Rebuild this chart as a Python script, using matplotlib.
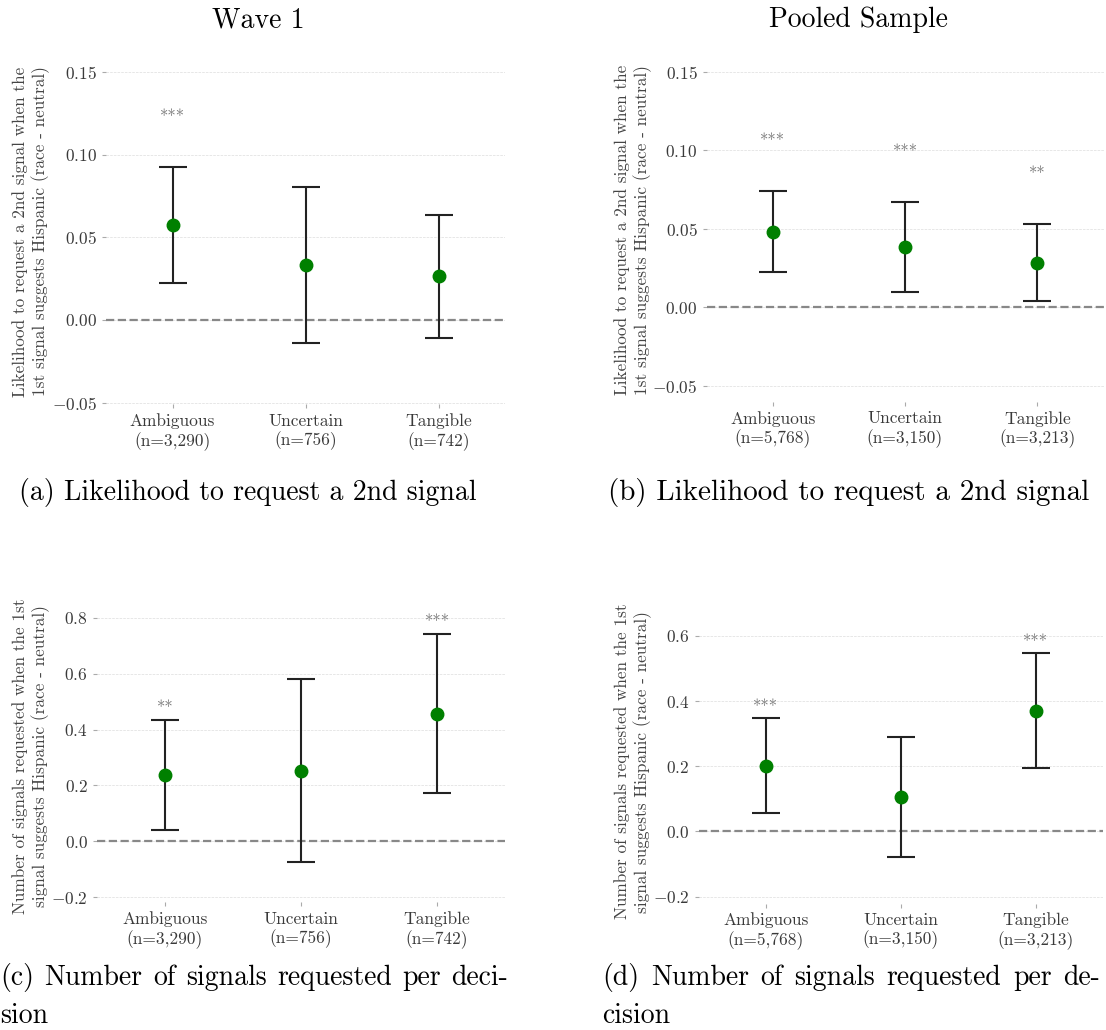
import numpy as np
import matplotlib
matplotlib.use("Agg")
import matplotlib.pyplot as plt
from matplotlib.ticker import MultipleLocator

# fuente tipo LaTeX (Computer Modern)
plt.rcParams['font.family'] = 'cmr10'
plt.rcParams['mathtext.fontset'] = 'cm'
plt.rcParams['axes.formatter.use_mathtext'] = True

"""
DATOS
"""
categorias = ["Ambiguous", "Uncertain", "Tangible"]
n_wave1 = ["3,290", "756", "742"]
n_pooled = ["5,768", "3,150", "3,213"]

# (a) probabilidad de pedir 2da senal - wave 1
prob_w1_est = [0.0573, 0.0334, 0.0267]
prob_w1_lo = [0.0221, -0.0142, -0.0107]
prob_w1_hi = [0.0923, 0.0806, 0.0636]
prob_w1_sig = ["***", "", ""]

# (b) probabilidad de pedir 2da senal - pooled
prob_pool_est = [0.0481, 0.0384, 0.0283]
prob_pool_lo = [0.0227, 0.0097, 0.0041]
prob_pool_hi = [0.0738, 0.0672, 0.0532]
prob_pool_sig = ["***", "***", "**"]

# (c) numero de senales - wave 1
num_w1_est = [0.237, 0.253, 0.456]
num_w1_lo = [0.040, -0.075, 0.174]
num_w1_hi = [0.434, 0.582, 0.740]
num_w1_sig = ["**", "", "***"]

# (d) numero de senales - pooled
num_pool_est = [0.202, 0.106, 0.371]
num_pool_lo = [0.056, -0.078, 0.196]
num_pool_hi = [0.348, 0.289, 0.547]
num_pool_sig = ["***", "", "***"]

ylab_prob = "Likelihood to request a 2nd signal when the\n1st signal suggests Hispanic (race - neutral)"
ylab_num = "Number of signals requested when the 1st\nsignal suggests Hispanic (race - neutral)"

"""
FIGURA
"""
W, H = 1106, 1030
fig = plt.figure(figsize=(W / 100, H / 100), dpi=100)


def caja(l, t, w, h):
    # caja en pixeles -> fraccion de figura
    return [l / W, 1 - (t + h) / H, w / W, h / H]


def panel(ax, est, lo, hi, sig, nobs, ylabel, ylim, paso, off, labx):
    x = np.arange(len(categorias))
    est = np.array(est)
    lo = np.array(lo)
    hi = np.array(hi)
    ax.errorbar(x, est, yerr=[est - lo, hi - est], fmt='o', color='green',
                ms=9, ecolor='#222222', elinewidth=1.5, capsize=10,
                capthick=1.5, zorder=3)
    ax.axhline(0, color='#888888', ls='--', lw=1.6, zorder=2)
    for xi, h, s in zip(x, hi, sig):
        ax.text(xi, h + off, s, ha='center', va='center', fontsize=12,
                color='#777777')
    ax.set_xlim(-0.5, 2.5)
    ax.set_ylim(ylim)
    ax.yaxis.set_major_locator(MultipleLocator(paso))
    ax.grid(axis='y', ls='--', lw=0.5, color='#dddddd')
    ax.set_axisbelow(True)
    for sp in ax.spines.values():
        sp.set_visible(False)
    ax.set_xticks(x)
    ax.set_xticklabels([c + "\n(n=" + n + ")" for c, n in zip(categorias, nobs)])
    ax.tick_params(colors='#aaaaaa', labelcolor='#3a3a3a', labelsize=12.5,
                   length=3, width=0.8)
    ax.set_ylabel(ylabel, fontsize=12.4, color='#444444')
    ax.yaxis.set_label_coords(labx, 0.5)


ax1 = fig.add_axes(caja(106, 58.8, 399, 345.5))
panel(ax1, prob_w1_est, prob_w1_lo, prob_w1_hi, prob_w1_sig, n_wave1,
      ylab_prob, (-0.051, 0.158), 0.05, 0.030, -0.141)

ax2 = fig.add_axes(caja(706.5, 59.0, 397, 342.7))
panel(ax2, prob_pool_est, prob_pool_lo, prob_pool_hi, prob_pool_sig, n_pooled,
      ylab_prob, (-0.060, 0.158), 0.05, 0.0315, -0.138)

ax3 = fig.add_axes(caja(97, 609.3, 408, 293.1))
panel(ax3, num_w1_est, num_w1_lo, num_w1_hi, num_w1_sig, n_wave1,
      ylab_num, (-0.218, 0.83), 0.2, 0.042, -0.116)

ax4 = fig.add_axes(caja(698.5, 619.7, 405, 283.8))
panel(ax4, num_pool_est, num_pool_lo, num_pool_hi, num_pool_sig, n_pooled,
      ylab_num, (-0.221, 0.65), 0.2, 0.034, -0.116)

# titulos de columna
fig.text(258 / W, 1 - 27 / H, "Wave 1", ha='center', va='baseline', fontsize=20)
fig.text(858 / W, 1 - 27 / H, "Pooled Sample", ha='center', va='baseline', fontsize=20)

# captions
fig.text(248 / W, 1 - 500 / H, "(a) Likelihood to request a 2nd signal",
         ha='center', va='baseline', fontsize=20)
fig.text(849 / W, 1 - 500 / H, "(b) Likelihood to request a 2nd signal",
         ha='center', va='baseline', fontsize=21)


def linea_justificada(x0, base, texto, ancho, fs):
    # reparte el espacio sobrante entre palabras (como LaTeX)
    r = fig.canvas.get_renderer()
    palabras = texto.split(" ")
    ts = [fig.text(0, 1 - base / H, p, fontsize=fs, va='baseline') for p in palabras]
    anchos = [t.get_window_extent(r).width for t in ts]
    hueco = (ancho - sum(anchos)) / (len(palabras) - 1)
    x = x0
    for t, a in zip(ts, anchos):
        t.set_x(x / W)
        x += a + hueco


linea_justificada(0, 985, "(c) Number of signals requested per deci-", 508, 20)
fig.text(0, 1 - 1023 / H, "sion", ha='left', va='baseline', fontsize=20)
linea_justificada(602, 985, "(d) Number of signals requested per de-", 498, 20)
fig.text(602 / W, 1 - 1023 / H, "cision", ha='left', va='baseline', fontsize=20)

plt.savefig('out.png', dpi=100)
